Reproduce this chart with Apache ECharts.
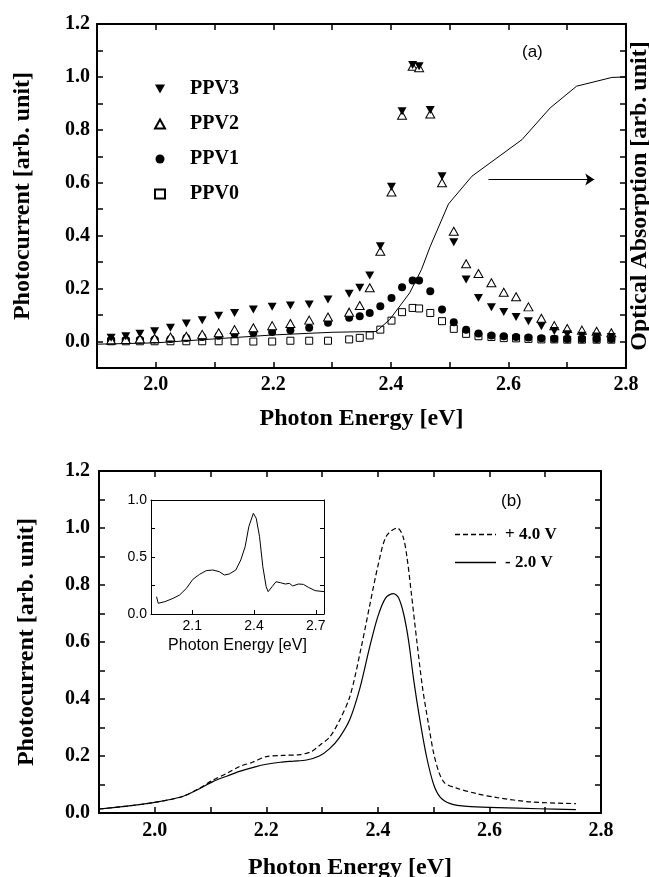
<!DOCTYPE html>
<html>
<head>
<meta charset="utf-8">
<script src="https://cdn.jsdelivr.net/npm/echarts@6/dist/echarts.min.js"></script>
<style>
html, body { margin: 0; padding: 0; background: #fff; }
#chart { width: 649px; height: 877px; }
</style>
</head>
<body>
<div id="chart"></div>
<script>
// (a) photocurrent spectra, shared photon energies
const energy = [1.924, 1.949, 1.973, 1.998, 2.025, 2.052, 2.079, 2.107, 2.134, 2.166, 2.198, 2.229, 2.261, 2.293, 2.329, 2.347, 2.364, 2.382, 2.401, 2.419, 2.437, 2.448, 2.467, 2.487, 2.507, 2.528, 2.549, 2.571, 2.592, 2.613, 2.634, 2.656, 2.678, 2.700, 2.725, 2.750, 2.775];
const ppv3 = [0.014, 0.02, 0.029, 0.039, 0.052, 0.068, 0.08, 0.097, 0.108, 0.121, 0.131, 0.136, 0.14, 0.159, 0.181, 0.203, 0.25, 0.36, 0.585, 0.87, 1.045, 1.04, 0.875, 0.625, 0.375, 0.234, 0.165, 0.13, 0.112, 0.093, 0.077, 0.058, 0.04, 0.028, 0.022, 0.019, 0.017];
const ppv2 = [0.005, 0.008, 0.01, 0.012, 0.017, 0.02, 0.027, 0.033, 0.045, 0.052, 0.06, 0.068, 0.081, 0.093, 0.111, 0.136, 0.203, 0.341, 0.565, 0.855, 1.04, 1.035, 0.86, 0.6, 0.417, 0.294, 0.257, 0.222, 0.186, 0.169, 0.131, 0.088, 0.06, 0.049, 0.043, 0.039, 0.033];
const ppv1 = [0.005, 0.006, 0.007, 0.008, 0.01, 0.013, 0.017, 0.022, 0.029, 0.033, 0.036, 0.043, 0.052, 0.071, 0.09, 0.096, 0.108, 0.133, 0.165, 0.205, 0.231, 0.231, 0.19, 0.121, 0.073, 0.045, 0.03, 0.023, 0.02, 0.017, 0.015, 0.012, 0.011, 0.01, 0.01, 0.01, 0.01];
const ppv0 = [0.001, 0.001, 0.001, 0.001, 0.001, 0.001, 0.001, 0.001, 0.001, 0.0, 0.0, 0.003, 0.003, 0.003, 0.008, 0.014, 0.023, 0.045, 0.079, 0.111, 0.127, 0.125, 0.108, 0.077, 0.048, 0.029, 0.02, 0.017, 0.013, 0.012, 0.01, 0.008, 0.008, 0.007, 0.007, 0.007, 0.007];

// optical absorption (right axis)
const absE = [1.90, 2.0, 2.1, 2.2, 2.3, 2.375, 2.398, 2.432, 2.452, 2.467, 2.498, 2.538, 2.623, 2.671, 2.716, 2.776, 2.8];
const absVal = [-0.01, -0.005, 0.01, 0.025, 0.035, 0.038, 0.083, 0.184, 0.272, 0.36, 0.52, 0.625, 0.763, 0.883, 0.965, 0.998, 1.0];
const arrowE = [2.566, 2.746];
const arrowY = 0.612;

// (b) bias-dependent photocurrent
const plusE = [1.90, 1.95, 2.00, 2.05, 2.08, 2.104, 2.13, 2.152, 2.175, 2.20, 2.23, 2.26, 2.28, 2.296, 2.313, 2.33, 2.35, 2.37, 2.385, 2.40, 2.415, 2.435, 2.445, 2.452, 2.46, 2.47, 2.48, 2.49, 2.50, 2.51, 2.52, 2.54, 2.577, 2.614, 2.673, 2.755];
const plusPC = [0.014, 0.024, 0.037, 0.058, 0.087, 0.115, 0.14, 0.163, 0.178, 0.198, 0.202, 0.205, 0.215, 0.238, 0.265, 0.32, 0.41, 0.58, 0.725, 0.866, 0.971, 1.0, 0.97, 0.9, 0.77, 0.6, 0.44, 0.32, 0.21, 0.14, 0.105, 0.088, 0.068, 0.054, 0.039, 0.033];
const minusE = [1.90, 1.95, 2.00, 2.05, 2.08, 2.104, 2.13, 2.152, 2.18, 2.20, 2.225, 2.248, 2.272, 2.295, 2.313, 2.33, 2.35, 2.368, 2.385, 2.40, 2.414, 2.428, 2.437, 2.446, 2.455, 2.464, 2.475, 2.487, 2.50, 2.512, 2.53, 2.56, 2.614, 2.688, 2.755];
const minusPC = [0.014, 0.024, 0.037, 0.058, 0.085, 0.11, 0.13, 0.146, 0.162, 0.171, 0.178, 0.182, 0.186, 0.2, 0.225, 0.262, 0.33, 0.44, 0.58, 0.69, 0.755, 0.77, 0.755, 0.7, 0.605, 0.47, 0.33, 0.2, 0.1, 0.055, 0.033, 0.023, 0.019, 0.015, 0.012];

// inset
const insetE = [1.927, 1.935, 1.967, 2.007, 2.039, 2.072, 2.103, 2.136, 2.168, 2.2, 2.232, 2.256, 2.28, 2.312, 2.336, 2.357, 2.375, 2.397, 2.411, 2.427, 2.443, 2.459, 2.469, 2.488, 2.507, 2.528, 2.552, 2.572, 2.588, 2.616, 2.64, 2.664, 2.697, 2.74];
const insetPC = [0.152, 0.094, 0.108, 0.137, 0.167, 0.225, 0.304, 0.348, 0.38, 0.386, 0.371, 0.342, 0.351, 0.386, 0.474, 0.59, 0.766, 0.883, 0.839, 0.678, 0.415, 0.24, 0.196, 0.24, 0.283, 0.275, 0.263, 0.269, 0.246, 0.263, 0.26, 0.234, 0.205, 0.196];
const insetTicks = [2.1, 2.4, 2.7];

const serif = "Liberation Serif";
const sans = "Liberation Sans";

// legend icons for the two bias curves
const dashIcon = "path://M0,0h5v1.5h-5z M8,0h5v1.5h-5z M16,0h5v1.5h-5z M24,0h5v1.5h-5z M32,0h5v1.5h-5z M40,0h1v1.5h-1z";
const downTriangle = "path://M0,0 L10,0 L5,9 Z";

function pairs(xs, ys) {
  return xs.map((x, i) => [x, ys[i]]);
}

// only every other tenth gets a label
function evenLabel(v) {
  const k = Math.round(v * 10);
  return k >= 0 && k % 2 === 0 ? v.toFixed(1) : "";
}

const boldLabel = { fontFamily: serif, fontWeight: "bold", fontSize: 20, color: "#000" };
const boldName = { fontFamily: serif, fontWeight: "bold", fontSize: 24, color: "#000" };

function frameAxis(extra) {
  return Object.assign({
    type: "value",
    axisLine: { onZero: false, lineStyle: { color: "#000", width: 2 } },
    axisTick: { inside: true, length: 6, lineStyle: { color: "#000", width: 1.5 } },
    splitLine: { show: false },
    axisLabel: { show: false }
  }, extra);
}

function insetAxis(extra) {
  return Object.assign({
    type: "value",
    axisLine: { onZero: false, lineStyle: { color: "#000", width: 1 } },
    axisTick: { inside: true, length: 4, lineStyle: { color: "#000", width: 1 } },
    splitLine: { show: false },
    axisLabel: { show: false }
  }, extra);
}

const chart = echarts.init(document.getElementById("chart"), null, { renderer: "canvas" });

chart.setOption({
  animation: false,
  backgroundColor: "#fff",
  grid: [
    { left: 97, top: 24, width: 529, height: 344, containLabel: false, outerBoundsMode: "none" },
    { left: 99, top: 471, width: 502, height: 342, containLabel: false, outerBoundsMode: "none" },
    { left: 151, top: 500, width: 173, height: 114, containLabel: false, outerBoundsMode: "none", z: 5 }
  ],
  xAxis: [
    frameAxis({
      gridIndex: 0, position: "bottom", min: 1.9, max: 2.8, interval: 0.1,
      axisLabel: Object.assign({ show: true, formatter: evenLabel, margin: 7 }, boldLabel),
      name: "Photon Energy [eV]", nameLocation: "middle", nameGap: 39, nameTextStyle: boldName
    }),
    frameAxis({ gridIndex: 0, position: "top", min: 1.9, max: 2.8, interval: 0.1 }),
    frameAxis({
      gridIndex: 1, position: "bottom", min: 1.9, max: 2.8, interval: 0.1,
      axisLabel: Object.assign({ show: true, formatter: evenLabel, margin: 8 }, boldLabel),
      name: "Photon Energy [eV]", nameLocation: "middle", nameGap: 43, nameTextStyle: boldName
    }),
    frameAxis({ gridIndex: 1, position: "top", min: 1.9, max: 2.8, interval: 0.1 }),
    insetAxis({
      gridIndex: 2, position: "bottom", min: 1.9, max: 2.74,
      axisTick: { inside: true, length: 4, customValues: insetTicks, lineStyle: { color: "#000", width: 1 } },
      axisLabel: { show: true, customValues: insetTicks, formatter: (v) => v.toFixed(1), margin: 5, fontFamily: sans, fontSize: 14, color: "#000" },
      name: "Photon Energy [eV]", nameLocation: "middle", nameGap: 24,
      nameTextStyle: { fontFamily: sans, fontSize: 16, color: "#000" }
    }),
    insetAxis({ gridIndex: 2, position: "top", min: 1.9, max: 2.74, axisTick: { show: false } })
  ],
  yAxis: [
    frameAxis({
      gridIndex: 0, position: "left", min: -0.1, max: 1.2, interval: 0.1,
      axisLabel: Object.assign({ show: true, formatter: evenLabel, margin: 7 }, boldLabel),
      name: "Photocurrent [arb. unit]", nameLocation: "middle", nameGap: 62, nameTextStyle: boldName
    }),
    frameAxis({
      gridIndex: 0, position: "right", min: -0.1, max: 1.2, interval: 0.1,
      name: "Optical Absorption [arb. unit]", nameLocation: "middle", nameGap: 2, nameTextStyle: boldName
    }),
    frameAxis({
      gridIndex: 1, position: "left", min: 0, max: 1.2, interval: 0.1,
      axisLabel: Object.assign({ show: true, formatter: evenLabel, margin: 9 }, boldLabel),
      name: "Photocurrent [arb. unit]", nameLocation: "middle", nameGap: 60, nameTextStyle: boldName
    }),
    frameAxis({ gridIndex: 1, position: "right", min: 0, max: 1.2, interval: 0.1 }),
    insetAxis({
      gridIndex: 2, position: "left", min: 0, max: 1, interval: 0.25,
      axisLabel: {
        show: true, margin: 4, fontFamily: sans, fontSize: 14, color: "#000",
        formatter: (v) => (Math.round(v * 100) % 50 === 0 ? v.toFixed(1) : "")
      }
    }),
    insetAxis({ gridIndex: 2, position: "right", min: 0, max: 1, interval: 0.25 })
  ],
  legend: [
    {
      data: ["PPV3", "PPV2", "PPV1", "PPV0"],
      orient: "vertical", left: 149, top: 74,
      itemWidth: 10, itemHeight: 9, itemGap: 15,
      textStyle: { fontFamily: serif, fontWeight: "bold", fontSize: 20, color: "#000", padding: [0, 0, 0, 20] }
    },
    {
      data: [
        { name: "+ 4.0 V", icon: dashIcon },
        { name: "- 2.0 V", icon: "rect" }
      ],
      orient: "vertical", left: 450, top: 521,
      itemWidth: 41, itemHeight: 1.5, itemGap: 11,
      itemStyle: { color: "#000", borderWidth: 0 },
      textStyle: { fontFamily: serif, fontWeight: "bold", fontSize: 17, color: "#000", padding: [0, 0, 0, 4] }
    }
  ],
  graphic: [
    { type: "text", left: 522, top: 44, style: { text: "(a)", font: "17px Liberation Sans", fill: "#000" } },
    { type: "text", left: 501, top: 493, style: { text: "(b)", font: "17px Liberation Sans", fill: "#000" } }
  ],
  series: [
    {
      name: "PPV0", type: "scatter", xAxisIndex: 0, yAxisIndex: 0,
      data: pairs(energy, ppv0), symbol: "rect", symbolSize: 7,
      itemStyle: { color: "#fff", borderColor: "#000", borderWidth: 1, opacity: 1 }
    },
    {
      name: "PPV1", type: "scatter", xAxisIndex: 0, yAxisIndex: 0,
      data: pairs(energy, ppv1), symbol: "circle", symbolSize: 8,
      itemStyle: { color: "#000", opacity: 1 }
    },
    {
      name: "PPV2", type: "scatter", xAxisIndex: 0, yAxisIndex: 0,
      data: pairs(energy, ppv2), symbol: "triangle", symbolSize: [9, 8],
      itemStyle: { color: "#fff", borderColor: "#000", borderWidth: 1, opacity: 1 }
    },
    {
      name: "PPV3", type: "scatter", xAxisIndex: 0, yAxisIndex: 0,
      data: pairs(energy, ppv3), symbol: downTriangle, symbolSize: [9, 8],
      itemStyle: { color: "#000", opacity: 1 }
    },
    {
      name: "Absorption", type: "line", xAxisIndex: 0, yAxisIndex: 1,
      data: pairs(absE, absVal), symbol: "none",
      lineStyle: { color: "#000", width: 1 },
      markLine: {
        silent: true, symbol: ["none", "arrow"], symbolSize: 9,
        label: { show: false },
        itemStyle: { color: "#000" },
        lineStyle: { color: "#000", width: 1, type: "solid" },
        data: [[{ coord: [arrowE[0], arrowY], symbol: "none" }, { coord: [arrowE[1], arrowY], symbol: "arrow" }]]
      }
    },
    {
      name: "+ 4.0 V", type: "line", xAxisIndex: 2, yAxisIndex: 2,
      data: pairs(plusE, plusPC), symbol: "none", smooth: 0.3,
      itemStyle: { color: "#000" },
      lineStyle: { color: "#000", width: 1.2, type: [5, 3] }
    },
    {
      name: "- 2.0 V", type: "line", xAxisIndex: 2, yAxisIndex: 2,
      data: pairs(minusE, minusPC), symbol: "none", smooth: 0.3,
      itemStyle: { color: "#000" },
      lineStyle: { color: "#000", width: 1.2 }
    },
    {
      name: "Inset", type: "line", xAxisIndex: 4, yAxisIndex: 4,
      data: pairs(insetE, insetPC), symbol: "none",
      lineStyle: { color: "#000", width: 1 }
    }
  ]
});
</script>
</body>
</html>
